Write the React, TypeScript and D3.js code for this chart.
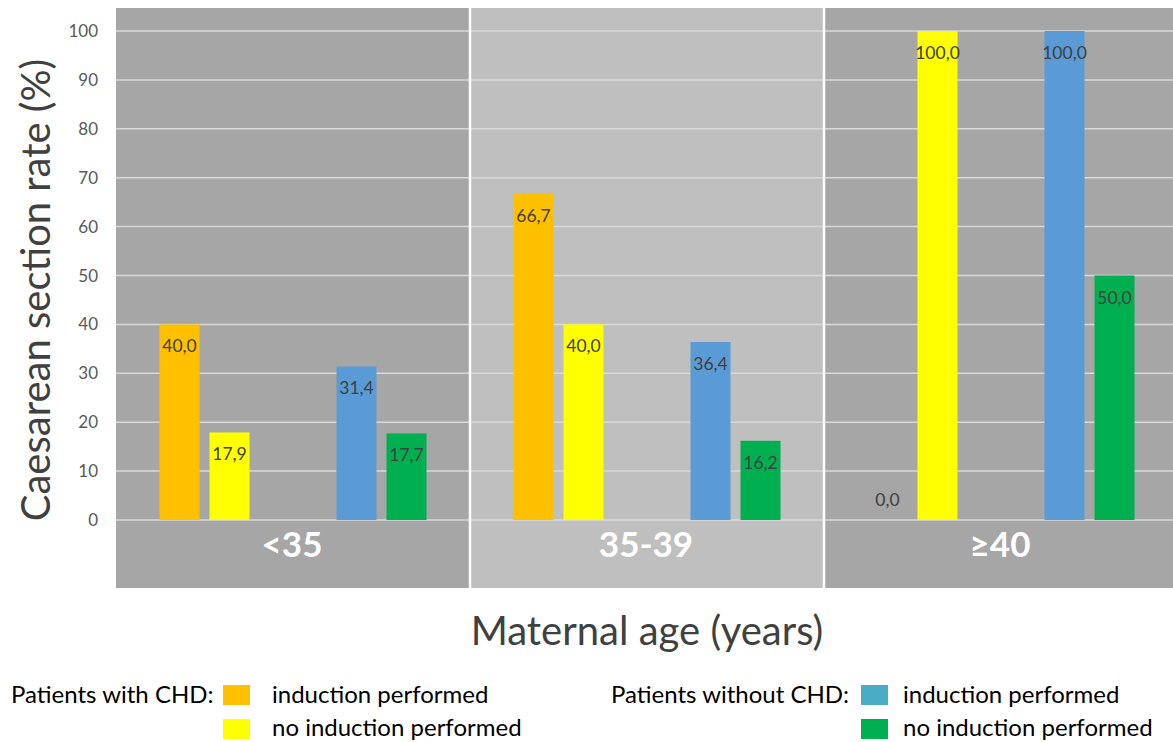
import React from "react";
import * as d3 from "d3";

const categories = ["<35", "35-39", "≥40"];
const groups = ["with CHD", "without CHD"];
const subSeries = ["induction performed", "no induction performed"];
const chdInduction = [40.0, 66.7, 0.0];
const chdNoInduction = [17.9, 40.0, 100.0];
const noChdInduction = [31.4, 36.4, 100.0];
const noChdNoInduction = [17.7, 16.2, 50.0];
const yTicks = [0, 10, 20, 30, 40, 50, 60, 70, 80, 90, 100];

const barColors: Record<string, string[]> = {
  "with CHD": ["#FFC000", "#FFFF00"],
  "without CHD": ["#5B9BD5", "#00B050"],
};
const legendColors: Record<string, string[]> = {
  "with CHD": ["#FFC000", "#FFFF00"],
  "without CHD": ["#4BACC6", "#00B050"],
};
const panelColors = ["#A6A6A6", "#BFBFBF", "#A6A6A6"];

const W = 1173;
const H = 742;
const FONT = "Lato, 'Open Sans', sans-serif";

export default function App() {
  const plotTop = 8;
  const plotBottom = 588;
  const x0 = d3.scaleBand<string>().domain(categories).range([116, 1178]).padding(0);
  const x1 = d3.scaleBand<string>().domain(groups).range([0, x0.bandwidth()]).padding(0);
  const x2 = d3
    .scaleBand<string>()
    .domain(subSeries)
    .range([0, x1.bandwidth()])
    .paddingInner(0.2)
    .paddingOuter(0.87);
  const y = d3.scaleLinear().domain([0, 100]).range([520, 31]);

  const valueFor = (ci: number, g: string, s: string) => {
    if (g === "with CHD") return s === subSeries[0] ? chdInduction[ci] : chdNoInduction[ci];
    return s === subSeries[0] ? noChdInduction[ci] : noChdNoInduction[ci];
  };

  const fmt = (v: number) => v.toFixed(1).replace(".", ",");

  return (
    <svg width={W} height={H} style={{ position: "absolute", left: 0, top: 0, background: "#fff" }}>
      {categories.map((c, i) => (
        <rect
          key={c}
          x={x0(c)!}
          y={plotTop}
          width={x0.bandwidth()}
          height={plotBottom - plotTop}
          fill={panelColors[i]}
        />
      ))}
      {yTicks.map((t) => (
        <line key={t} x1={116} x2={W} y1={y(t)} y2={y(t)} stroke="#D9D9D9" strokeWidth={1.5} />
      ))}
      {categories.slice(1).map((c) => (
        <line
          key={c}
          x1={x0(c)!}
          x2={x0(c)!}
          y1={plotTop}
          y2={plotBottom}
          stroke="#FFFFFF"
          strokeWidth={2.5}
        />
      ))}
      {categories.map((c, ci) =>
        groups.map((g) =>
          subSeries.map((s, si) => {
            const v = valueFor(ci, g, s);
            const bx = x0(c)! + x1(g)! + x2(s)!;
            const bw = x2.bandwidth();
            const top = y(v);
            const ly = v === 0 ? y(0) - 14 : top + 28;
            return (
              <g key={c + g + s}>
                {v > 0 && (
                  <rect x={bx} y={top} width={bw} height={y(0) - top} fill={barColors[g][si]} />
                )}
                <text
                  x={bx + bw / 2}
                  y={ly}
                  textAnchor="middle"
                  fontFamily={FONT}
                  fontSize={17.5}
                  fill="#404040"
                >
                  {fmt(v)}
                </text>
              </g>
            );
          })
        )
      )}
      {categories.map((c) => (
        <text
          key={c}
          x={x0(c)! + x0.bandwidth() / 2 - 1}
          y={557}
          textAnchor="middle"
          fontFamily={FONT}
          fontWeight="bold"
          fontSize={35}
          fill="#FFFFFF"
        >
          {c}
        </text>
      ))}
      {yTicks.map((t) => (
        <text
          key={t}
          x={98}
          y={y(t) + 6}
          textAnchor="end"
          fontFamily={FONT}
          fontSize={17}
          fill="#595959"
        >
          {t}
        </text>
      ))}
      <text
        transform={`translate(50, 290) rotate(-90)`}
        textAnchor="middle"
        fontFamily={FONT}
        fontSize={40}
        fill="#404040"
      >
        Caesarean section rate (%)
      </text>
      <text x={647} y={645} textAnchor="middle" fontFamily={FONT} fontSize={40} fill="#404040">
        Maternal age (years)
      </text>
      {groups.map((g, gi) => {
        const lx = gi === 0 ? 11 : 611;
        const sx = gi === 0 ? 223 : 861;
        const tx = gi === 0 ? 272 : 903;
        return (
          <g key={g}>
            <text x={lx} y={703} fontFamily={FONT} fontSize={24} fill="#000">
              {`Patients ${g}:`}
            </text>
            {subSeries.map((s, si) => (
              <g key={s}>
                <rect x={sx} y={685 + si * 34} width={27} height={20} fill={legendColors[g][si]} />
                <text x={tx} y={703 + si * 33} fontFamily={FONT} fontSize={24} fill="#000">
                  {s}
                </text>
              </g>
            ))}
          </g>
        );
      })}
    </svg>
  );
}
